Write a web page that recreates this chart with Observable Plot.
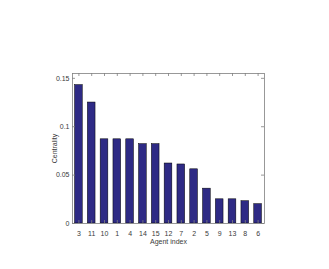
<!DOCTYPE html>
<html>
<head>
<meta charset="utf-8">
<script src="https://cdn.jsdelivr.net/npm/d3@7"></script>
<script src="https://cdn.jsdelivr.net/npm/@observablehq/plot@0.6"></script>
<style>
  html, body { margin: 0; padding: 0; background: #fff; }
  #chart { width: 329px; height: 269px; }
</style>
</head>
<body>
<div id="chart"></div>
<script>
const agents = ["3", "11", "10", "1", "4", "14", "15", "12", "7", "2", "5", "9", "13", "8", "6"];
const centrality = [0.143, 0.125, 0.087, 0.087, 0.087, 0.082, 0.082, 0.062, 0.061, 0.056, 0.036, 0.025, 0.025, 0.023, 0.020];
const yTicks = [0, 0.05, 0.1, 0.15];
const yTickLabels = ["0", "0.05", "0.1", "0.15"];

const data = agents.map((a, i) => ({agent: a, value: centrality[i]}));

const W = 329, H = 269;
const mL = 72, mR = 65, mT = 73, mB = 46;
const fw = W - mL - mR, fh = H - mT - mB;
const tickLen = 3;
const axisColor = "#7f7f7f";
const textColor = "#3a3a3a";

const chart = Plot.plot({
  width: W,
  height: H,
  marginLeft: mL,
  marginRight: mR,
  marginTop: mT,
  marginBottom: mB,
  style: {fontFamily: "'Liberation Sans', Arial, sans-serif", fontSize: "7px", color: textColor, background: "#fff"},
  x: {domain: agents, paddingInner: 0.4, paddingOuter: 0.2, round: false, label: null},
  y: {domain: [0, 0.155], label: null},
  marks: [
    Plot.barY(data, {x: "agent", y: "value", fill: "#2e2a85", stroke: "#000", strokeWidth: 0.5}),
    Plot.frame({stroke: axisColor, strokeWidth: 0.8}),
    Plot.ruleX(agents, {x: d => d, insetTop: fh - tickLen, stroke: axisColor, strokeWidth: 0.8}),
    Plot.ruleX(agents, {x: d => d, insetBottom: fh - tickLen, stroke: axisColor, strokeWidth: 0.8}),
    Plot.ruleY(yTicks, {y: d => d, insetRight: fw - tickLen, stroke: axisColor, strokeWidth: 0.8}),
    Plot.ruleY(yTicks, {y: d => d, insetLeft: fw - tickLen, stroke: axisColor, strokeWidth: 0.8}),
    Plot.axisX({anchor: "bottom", tickSize: 0, tickPadding: 8, label: "Agent index", labelAnchor: "center", labelOffset: 20, fill: textColor}),
    Plot.axisY({anchor: "left", ticks: yTicks, tickFormat: (d) => yTickLabels[yTicks.indexOf(d)], tickSize: 0, tickPadding: 3, label: "Centrality", labelAnchor: "center", labelArrow: "none", labelOffset: 20, fill: textColor})
  ]
});
document.getElementById("chart").appendChild(chart);
</script>
</body>
</html>
